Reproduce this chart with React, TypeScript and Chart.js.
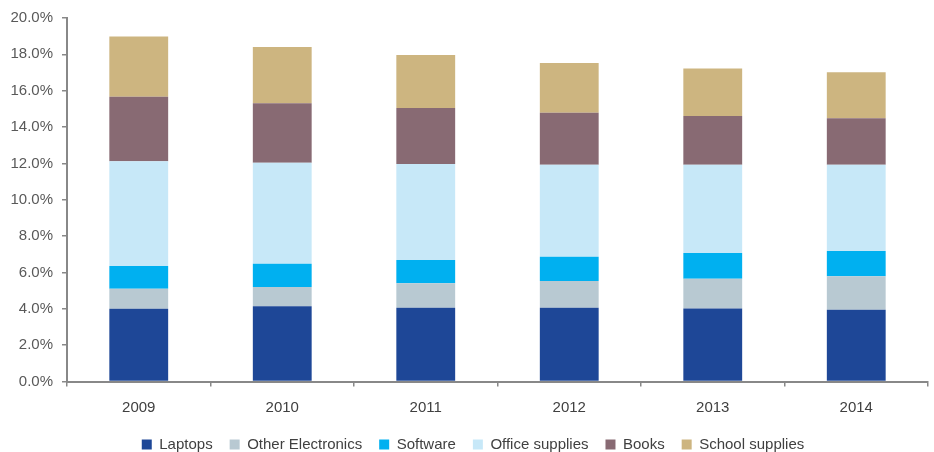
import React, { useEffect, useRef } from "react";
import { Chart, registerables } from "chart.js";

Chart.register(...registerables);

const years = ["2009", "2010", "2011", "2012", "2013", "2014"];
const laptops = [4.0, 4.14, 4.06, 4.06, 4.01, 3.95];
const otherElectronics = [1.1, 1.06, 1.34, 1.47, 1.65, 1.84];
const software = [1.26, 1.28, 1.29, 1.34, 1.41, 1.39];
const officeSupplies = [5.76, 5.56, 5.28, 5.05, 4.85, 4.74];
const books = [3.55, 3.27, 3.08, 2.87, 2.69, 2.57];
const schoolSupplies = [3.31, 3.1, 2.92, 2.74, 2.61, 2.53];

const seriesNames = ["Laptops", "Other Electronics", "Software", "Office supplies", "Books", "School supplies"];
const seriesColors = ["#1E4797", "#B8C9D2", "#00B0F0", "#C7E8F8", "#886A73", "#CDB580"];

const FONT = "'Liberation Sans', Arial, sans-serif";

const legendShift = {
  id: "legendShift",
  afterLayout(chart: any) {
    const lg = chart.legend;
    if (lg) {
      lg.left += 9;
      lg.right += 9;
    }
  },
};

export default function App() {
  const ref = useRef<HTMLCanvasElement | null>(null);
  useEffect(() => {
    document.body.style.margin = "0";
    const ctx = ref.current!;
    const values = [laptops, otherElectronics, software, officeSupplies, books, schoolSupplies];
    const chart = new Chart(ctx, {
      type: "bar",
      data: {
        labels: years,
        datasets: values.map((v, i) => ({
          label: seriesNames[i],
          data: v,
          backgroundColor: seriesColors[i],
          borderWidth: 0,
          categoryPercentage: 0.41,
          barPercentage: 1,
        })),
      },
      plugins: [legendShift],
      options: {
        animation: false,
        responsive: false,
        devicePixelRatio: 1,
        layout: { padding: { top: 17, right: 6, left: 0, bottom: -10 } },
        plugins: {
          tooltip: { enabled: false },
          legend: {
            position: "bottom",
            labels: {
              boxWidth: 10,
              boxHeight: 10,
              padding: 17,
              color: "#404040",
              font: { family: FONT, size: 15 },
            },
          },
        },
        scales: {
          x: {
            stacked: true,
            border: { display: true, color: "#888888", width: 2 },
            grid: { display: true, drawOnChartArea: false, drawTicks: true, tickLength: 5, color: "#888888", lineWidth: 1.5, offset: true },
            ticks: { color: "#404040", padding: 12, font: { family: FONT, size: 15 } },
            afterFit: (scale: any) => {
              scale.height = 38.5;
            },
          },
          y: {
            stacked: true,
            min: 0,
            max: 20,
            border: { display: true, color: "#888888", width: 2 },
            grid: { display: true, drawOnChartArea: false, drawTicks: true, tickLength: 5, color: "#888888", lineWidth: 1.5 },
            ticks: {
              stepSize: 2,
              color: "#595959",
              padding: 9,
              font: { family: FONT, size: 15 },
              callback: (v: any) => Number(v).toFixed(1) + "%",
            },
            afterFit: (scale: any) => {
              scale.width = 67;
            },
          },
        },
      },
    });
    return () => chart.destroy();
  }, []);
  return <canvas ref={ref} width={934} height={452} style={{ display: "block" }} />;
}
